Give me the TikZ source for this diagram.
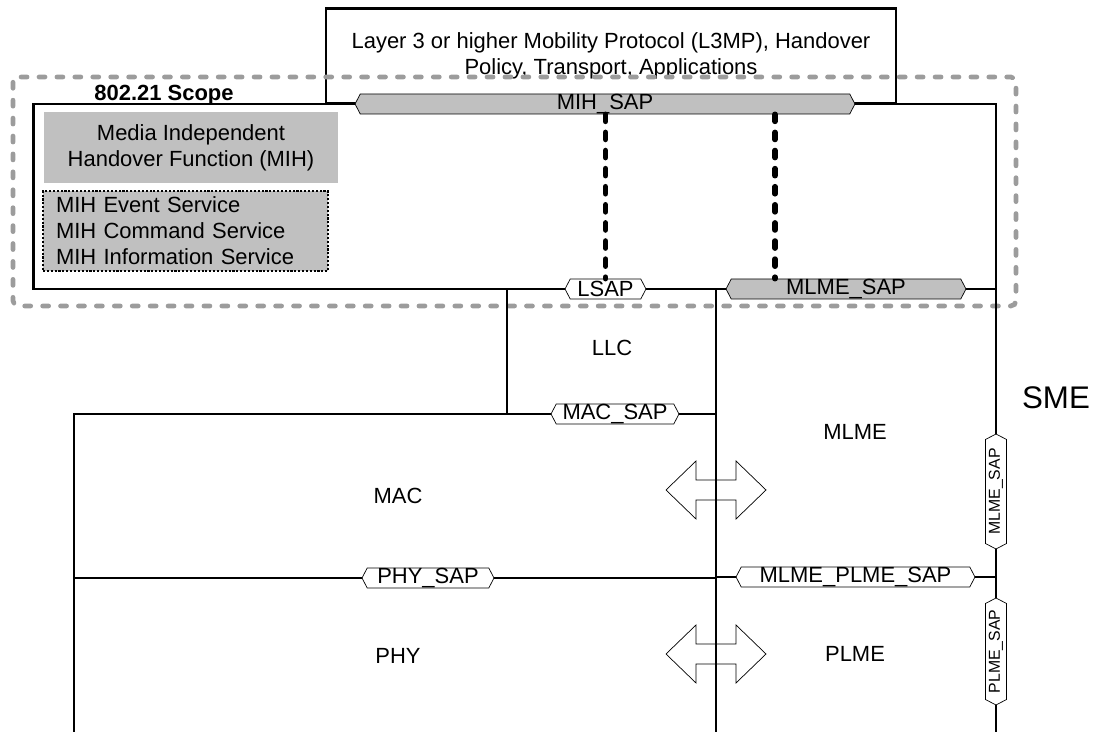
\documentclass[tikz,border=0pt]{standalone}
\usepackage{fontspec}
\setmainfont{Liberation Sans}
\usetikzlibrary{shapes.symbols}
\definecolor{fillgray}{HTML}{C0C0C0}
\definecolor{scopegray}{HTML}{9C9C9C}
\tikzset{sap/.style = {draw, thin, signal, signal to=west and east, signal pointer angle=125, inner xsep=0pt, inner ysep=0pt, minimum height=0.4cm, font=\fontsize{12.5}{15}\selectfont},
         graysap/.style = {sap, fill=fillgray},
         whitesap/.style = {sap, fill=white},
         vsap/.style = {sap, fill=white, rotate=90, minimum height=0.42cm, font=\fontsize{9}{11}\selectfont},
         txt/.style = {font=\fontsize{12.5}{14.8}\selectfont, align=center},
         dualarrow/.pic = {\draw[thin](-50,0)--(-20,-29)--(-20,-10)--(20,-10)--(20,-29)--(50,0)--(20,29)--(20,10)--(-20,10)--(-20,29)--cycle;},
         mihlink/.style = {line width=3.2pt, dash pattern=on 4pt off 6.3pt, line cap=round},
         scopeline/.style = {draw=scopegray, line width=2.7pt, dash pattern=on 3.4pt off 6.8pt, line cap=round, rounded corners=3pt}}

\begin{document}
\begin{tikzpicture}[x=0.02cm, y=-0.02cm, very thick]
    \useasboundingbox (0,0) rectangle (1106,732);
    % upper layers and 802.21 scope
    \node[draw, txt, minimum width=11.4cm, minimum height=1.9cm](l3mp)at(611,56){Layer 3 or higher Mobility Protocol (L3MP), Handover\\Policy, Transport, Applications};
    \draw[scopeline](13,77) rectangle (1016,306);
    \node[font=\bfseries\fontsize{12.5}{15}\selectfont](scope)at(164,95){802.21 Scope};
    \node[fill=fillgray, txt, minimum width=5.88cm, minimum height=1.42cm](mih)at(191,147.5){Media Independent\\Handover Function (MIH)};
    \node[draw, densely dotted, fill=fillgray, txt, align=left, text width=5.18cm, inner xsep=0.26cm, minimum height=1.56cm](services)at(185.5,231){MIH Event Service\\MIH Command Service\\MIH Information Service};

    % service access points
    \node[graysap, minimum width=10cm](mihsap)at(605,104){MIH\_SAP};
    \node[whitesap, minimum width=1.62cm](lsap)at(605.5,289){LSAP};
    \node[graysap, minimum width=4.8cm](mlmesap)at(846,289){MLME\_SAP};
    \node[whitesap, minimum width=2.56cm](macsap)at(615,414){MAC\_SAP};
    \node[whitesap, minimum width=2.64cm](physap)at(428,578){PHY\_SAP};
    \node[whitesap, minimum width=4.78cm](mlmeplmesap)at(855.5,577){MLME\_PLME\_SAP};
    \node[vsap, minimum width=2.3cm](smesap)at(996,491.5){MLME\_SAP};
    \node[vsap, minimum width=2.14cm](plmesap)at(996,651.5){PLME\_SAP};

    % layers
    \node[txt](llc)at(612,348){LLC};
    \node[txt](mac)at(398,496){MAC};
    \node[txt](phy)at(398,656){PHY};
    \node[txt](mlme)at(855,432){MLME};
    \node[txt](plme)at(855,654){PLME};
    \node[font=\fontsize{17.8}{20}\selectfont](sme)at(1056,398){SME};
    \pic(macmlme)at(716,490){dualarrow};
    \pic(phyplme)at(716,654){dualarrow};

    \coordinate(intl)at(33.5,104);
    \coordinate(inbl)at(33.5,289);
    \coordinate(smetop)at(996,104);
    \coordinate(smebot)at(996,732);
    \coordinate(divtop)at(716,289);
    \coordinate(divbot)at(716,732);
    \coordinate(llctl)at(507,289);
    \coordinate(mactl)at(74,414);
    \coordinate(macbl)at(74,732);
    \coordinate(mlmetap)at(775,289);

    \draw(mihsap.west)--(intl)--(inbl)--(lsap.west);
    \draw(mihsap.east)--(smetop)--(smesap.east);
    \draw(smesap.west)--(plmesap.east);
    \draw(plmesap.west)--(smebot);
    \draw(mlmesap.east)--(mlmesap.east -| smetop);
    \draw(lsap.east)--(divtop)--(mlmesap.west);
    \draw(divtop)--(divbot);
    \draw(llctl)--(llctl |- macsap);
    \draw(macbl)--(mactl)--(macsap.west);
    \draw(macsap.east)--(macsap.east -| divtop);
    \draw(physap.west)--(physap.west -| mactl);
    \draw(physap.east)--(physap.east -| divtop);
    \draw(mlmeplmesap.west)--(mlmeplmesap.west -| divtop);
    \draw(mlmeplmesap.east)--(mlmeplmesap.east -| smetop);

    \draw[mihlink](mihsap.south -| lsap)--(lsap.north);
    \draw[mihlink](mihsap.south -| mlmetap)--(mlmetap |- mlmesap.north);
\end{tikzpicture}
\end{document}
